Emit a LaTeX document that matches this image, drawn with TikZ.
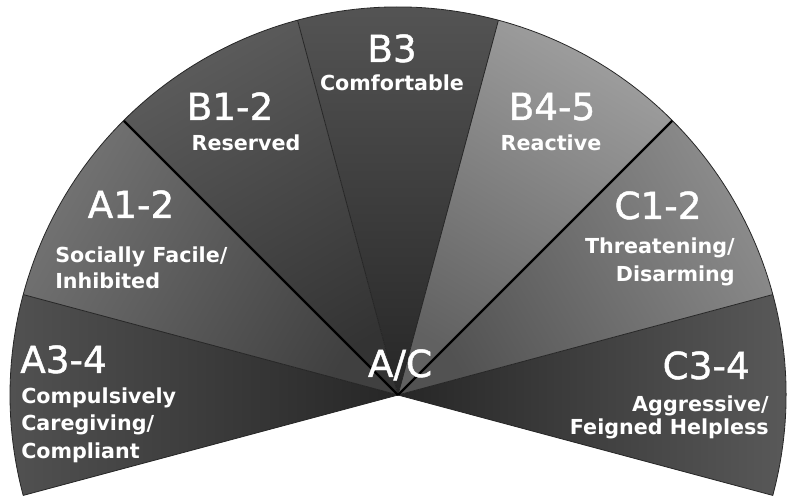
\documentclass[tikz,border=0pt]{standalone}
\usepackage{fontspec}
\setmainfont{DejaVu Sans}
\newfontfamily\zonefont{DejaVu Sans}[FakeBold=1.2]
\begin{document}
\begin{tikzpicture}[x=0.75pt, y=0.75pt]

    \tikzset{%
    spoke/.style={
        draw=black!85,
        line width=0.6pt
        },
    spoke heavy/.style={
        draw=black,
        line width=1.6pt
        },
    zone title/.style={
        text=white,
        inner sep=0pt,
        font=\zonefont\fontsize{28}{30}\selectfont
        },
    zone text/.style={
        text=white,
        inner sep=0pt,
        font=\bfseries\fontsize{15.5}{#1}\selectfont
        },
    zone text/.default=20.5,
    }

    \useasboundingbox (0,0) rectangle (788,496);
    \coordinate (centre) at (398,101);

    % Rim points between the seven zones
    \foreach \a [count=\i from 0] in {-15,15,45,75,105,135,165,195}
    \coordinate (rim-\i) at ([shift={(\a:388)}]centre);

    % Shaded wedges (inner colour / outer colour), C3-4 round to A3-4
    \foreach \a/\inner/\outer [count=\i from 0, evaluate=\a as \b using \a+30, evaluate=\a as \ang using \a-75] in
        {-15/black!85/black!65, 15/black!68/black!45, 45/black!62/black!38, 75/black!85/black!67,
         105/black!80/black!64, 135/black!75/black!55, 165/black!85/black!68}
    \shade [bottom color=\inner, top color=\outer, shading angle=\ang]
        (centre) -- (rim-\i) arc [start angle=\a, end angle=\b, radius=388] -- cycle;

    % Spokes and rim
    \foreach \i in {0,1,3,4,6,7} \draw [spoke] (centre) -- (rim-\i);
    \foreach \i in {2,5} \draw [spoke heavy] (centre) -- (rim-\i);
    \draw [spoke] (rim-0) arc [start angle=-15, end angle=195, radius=388];

    % Zone titles
    \node [zone title, anchor=base] (title-b3) at (392,434) {B3};
    \node [zone title, anchor=base] (title-b12) at (230,376) {B1-2};
    \node [zone title, anchor=base] (title-b45) at (552,376) {B4-5};
    \node [zone title, anchor=base] (title-a12) at (131,278) {A1-2};
    \node [zone title, anchor=base] (title-c12) at (658,277) {C1-2};
    \node [zone title, anchor=base west] (title-a34) at (20,123) {A3-4};
    \node [zone title, anchor=base east] (title-c34) at (750,117) {C3-4};
    \node [zone title, anchor=base] (title-ac) at (400,119) {A/C};

    % Zone descriptions (multi-line ones sit on their last line)
    \node [zone text, anchor=base] (text-b3) at (392,405) {Comfortable};
    \node [zone text, anchor=base] (text-b12) at (246,345) {Reserved};
    \node [zone text, anchor=base] (text-b45) at (551,345) {Reactive};
    \node [zone text=19.5, align=left, anchor=base west] (text-a12) at (55,207) {Socially Facile/\\Inhibited};
    \node [zone text=21.5, align=right, anchor=base east] (text-c12) at (735,214) {Threatening/\\Disarming};
    \node [zone text=20.6, align=left, anchor=base west] (text-a34) at (21,38) {Compulsively\\Caregiving/\\Compliant};
    \node [zone text=17.3, align=right, anchor=base east] (text-c34) at (769,61) {Aggressive/\\Feigned Helpless};

\end{tikzpicture}
\end{document}
